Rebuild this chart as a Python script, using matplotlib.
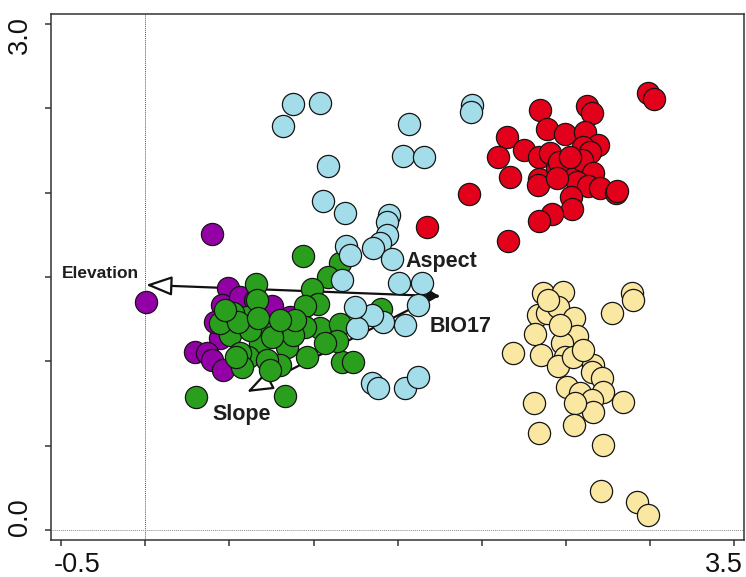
import matplotlib
matplotlib.use("Agg")
import matplotlib.pyplot as plt
from matplotlib.transforms import ScaledTranslation

plt.rcParams['font.family'] = ['Liberation Sans', 'DejaVu Sans']

# ---- data (RDA-like biplot scores) ----
red_x = [2.987, 3.023, 2.345, 2.624, 2.654, 2.387, 2.149, 2.494, 2.613, 2.690, 2.250, 2.096,
         2.339, 2.405, 2.601, 2.642, 2.167, 2.339, 2.446, 2.523, 2.595, 2.660, 2.333, 2.565,
         2.630, 2.702, 2.797, 2.803, 1.923, 2.529, 2.535, 2.416, 2.339, 1.674, 2.155, 2.458,
         2.523, 2.446]
red_y = [2.591, 2.555, 2.490, 2.514, 2.472, 2.377, 2.330, 2.348, 2.360, 2.283, 2.253, 2.211,
         2.211, 2.235, 2.271, 2.241, 2.093, 2.081, 2.146, 2.117, 2.194, 2.117, 2.045, 2.063,
         2.039, 2.027, 1.998, 2.010, 1.992, 1.974, 1.903, 1.873, 1.832, 1.796, 1.713, 2.182,
         2.211, 2.087]

yellow_x = [2.363, 2.482, 2.892, 2.898, 2.773, 2.333, 2.387, 2.452, 2.547, 2.315, 2.565, 2.185,
            2.351, 2.476, 2.494, 2.452, 2.541, 2.660, 2.654, 2.713, 2.505, 2.583, 2.720, 2.654,
            2.660, 2.553, 2.838, 2.310, 2.339, 2.547, 2.720, 2.708, 2.921, 2.987, 2.393, 2.464,
            2.601]
yellow_y = [1.405, 1.411, 1.405, 1.364, 1.287, 1.275, 1.287, 1.322, 1.257, 1.162, 1.150, 1.049,
            1.038, 1.109, 1.026, 0.972, 1.026, 0.978, 0.937, 0.901, 0.848, 0.812, 0.818, 0.771,
            0.700, 0.753, 0.759, 0.753, 0.575, 0.623, 0.504, 0.231, 0.166, 0.089, 1.364, 1.215,
            1.067]

purple_x = [0.396, 0.004, 0.491, 0.456, 0.563, 0.753, 0.860, 0.444, 0.295, 0.367, 0.396, 0.462,
            0.652, 0.414]
purple_y = [1.755, 1.352, 1.435, 1.334, 1.381, 1.328, 1.263, 1.138, 1.055, 1.049, 1.008, 0.949,
            1.364, 1.233]

green_x = [0.937, 0.658, 0.301, 0.830, 1.157, 1.086, 0.991, 1.026, 0.949, 1.038, 0.949, 1.157,
           1.169, 1.234, 0.961, 1.139, 0.604, 0.741, 0.503, 0.682, 0.842, 0.610, 0.800, 0.723,
           0.563, 0.878, 0.444, 1.400, 0.664, 0.521, 0.622, 0.753, 0.741, 0.551, 0.575, 0.540,
           0.670, 1.068, 0.889, 0.800, 0.474]
green_y = [1.624, 1.458, 0.789, 0.794, 1.583, 1.500, 1.429, 1.340, 1.328, 1.198, 1.204, 1.221,
           0.996, 0.996, 1.026, 1.121, 1.263, 1.186, 1.156, 1.109, 1.085, 1.026, 0.978, 1.008,
           1.049, 1.156, 1.227, 1.310, 1.364, 1.287, 1.186, 1.144, 0.949, 1.233, 0.966, 1.026,
           1.257, 1.109, 1.245, 1.245, 1.304]

blue_x = [0.877, 1.038, 0.818, 1.567, 1.531, 1.656, 1.086, 1.056, 1.187, 1.448, 1.436, 1.436,
          1.395, 1.353, 1.466, 1.193, 1.216, 1.169, 1.941, 1.935, 1.507, 1.644, 1.620, 1.543,
          1.412, 1.347, 1.258, 1.246, 1.347, 1.383, 1.543, 1.620]
blue_y = [2.526, 2.532, 2.395, 2.407, 2.217, 2.211, 2.158, 1.951, 1.880, 1.868, 1.826, 1.749,
          1.702, 1.672, 1.607, 1.684, 1.630, 1.482, 2.520, 2.478, 1.464, 1.464, 1.334, 1.215,
          1.233, 1.275, 1.198, 1.322, 0.872, 0.842, 0.842, 0.907]

# environmental vectors (start point shared)
vec_origin = (1.727, 1.387)
vec_names = ["Elevation", "Slope", "Aspect", "BIO17"]
vec_tip_x = [0.004, 0.604, 1.755, 1.755]
vec_tip_y = [1.453, 0.818, 1.392, 1.380]
vec_label_x = [-0.269, 0.570, 1.757, 1.876]
vec_label_y = [1.518, 0.682, 1.589, 1.204]
vec_label_size = [12.5, 15.5, 15.5, 15.5]

x_ticks = [-0.5, 0.0, 0.5, 1.0, 1.5, 2.0, 2.5, 3.0, 3.5]
x_ticklabels = ["-0.5", "", "", "", "", "", "", "", "3.5"]
y_ticks = [0.0, 0.5, 1.0, 1.5, 2.0, 2.5, 3.0]
y_ticklabels = ["0.0", "", "", "", "", "", "3.0"]

# ---- figure ----
fig = plt.figure(figsize=(7.46, 5.77), dpi=100)
ax = fig.add_axes([51/746, 1-540/577, 693/746, 526/577])
ax.set_xlim(-0.560, 3.557)
ax.set_ylim(-0.059, 3.059)

ax.axvline(0, color='#555555', lw=0.7, ls=(0, (1, 1)), zorder=0)
ax.axhline(0, color='#888888', lw=0.7, ls=(0, (1, 1)), zorder=0)

# arrows
for name, tx, ty in zip(vec_names, vec_tip_x, vec_tip_y):
    if name in ("Elevation", "Slope"):
        ax.annotate("", xy=(tx, ty), xytext=vec_origin,
                    arrowprops=dict(arrowstyle="-|>,head_length=16,head_width=6",
                                    mutation_scale=1, fc='white', ec='#111111',
                                    lw=1.6, shrinkA=0, shrinkB=0),
                    zorder=1)
    else:
        ax.annotate("", xy=(tx, ty), xytext=vec_origin,
                    arrowprops=dict(arrowstyle="-|>,head_length=7,head_width=2.5",
                                    mutation_scale=1, fc='#111111', ec='#111111',
                                    lw=1.6, shrinkA=0, shrinkB=0),
                    zorder=1)

sk = dict(s=255, edgecolors='#151515', linewidths=0.9)
ax.scatter(red_x, red_y, c='#E2001A', zorder=2, **sk)
ax.scatter(yellow_x, yellow_y, c='#F9E7A2', zorder=2, **sk)
ax.scatter(purple_x, purple_y, c='#9300A6', zorder=3, **sk)
ax.scatter(green_x, green_y, c='#2A9F1E', zorder=4, **sk)
ax.scatter(blue_x, blue_y, c='#A3DDE9', zorder=5, **sk)

for name, lx, ly, fs in zip(vec_names, vec_label_x, vec_label_y, vec_label_size):
    ax.text(lx, ly, name, fontsize=fs, fontweight='bold', color='#1e1e1e',
            ha='center', va='center', zorder=6)

for sp in ax.spines.values():
    sp.set_color('#333333')
    sp.set_linewidth(1.1)

ax.set_xticks(x_ticks)
ax.set_xticklabels(x_ticklabels)
ax.set_yticks(y_ticks)
ax.set_yticklabels(y_ticklabels, rotation=90, va='center')
ax.tick_params(axis='both', direction='out', length=4, width=1.1, color='#333333',
               labelsize=19.5, labelcolor='#111111')
ax.tick_params(axis='x', pad=5)
ax.tick_params(axis='y', pad=9)

# nudge end labels inward as in the reference
xl = ax.get_xticklabels()
xl[0].set_transform(xl[0].get_transform() + ScaledTranslation(0.16, 0, fig.dpi_scale_trans))
xl[-1].set_transform(xl[-1].get_transform() + ScaledTranslation(-0.11, 0, fig.dpi_scale_trans))
yl = ax.get_yticklabels()
yl[0].set_transform(yl[0].get_transform() + ScaledTranslation(0, 0.13, fig.dpi_scale_trans))
yl[-1].set_transform(yl[-1].get_transform() + ScaledTranslation(0, -0.11, fig.dpi_scale_trans))

fig.savefig("out.png", dpi=100)
